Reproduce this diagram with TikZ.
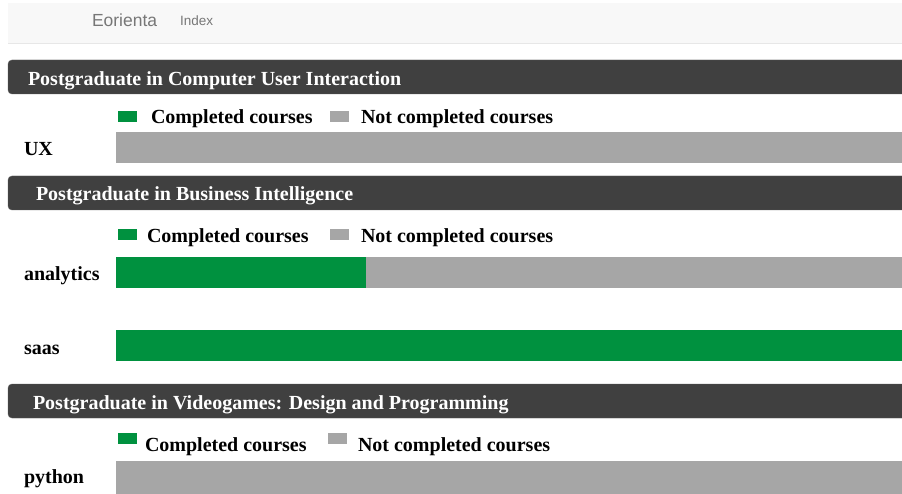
\documentclass[tikz,border=0pt]{standalone}
\usepackage{fontspec}
\setmainfont{Liberation Serif}
\newfontfamily\navfont{Liberation Sans}
\usepackage{tikz}

\definecolor{navbg}{HTML}{F8F8F8}
\definecolor{navline}{HTML}{E7E7E7}
\definecolor{navtext}{HTML}{777777}
\definecolor{headbg}{HTML}{404040}
\definecolor{done}{HTML}{00913F}
\definecolor{todo}{HTML}{A6A6A6}

\begin{document}
\begin{tikzpicture}[x=1pt,y=-1pt]
    \tikzstyle{every node}=[inner sep=0pt, outer sep=0pt]
    \tikzstyle{headbar}=[fill=headbg, draw=headbg!85!white, rounded corners=4pt,
        anchor=north west, minimum width=920pt, minimum height=34pt]
    \tikzstyle{title}=[anchor=base west, text=white,
        font=\fontsize{20}{24}\selectfont\bfseries]
    \tikzstyle{legtext}=[anchor=base west, font=\fontsize{20}{24}\selectfont\bfseries]
    \tikzstyle{course}=[anchor=base west, font=\fontsize{20}{24}\selectfont\bfseries]
    \tikzstyle{key}=[anchor=north west, minimum width=19pt, minimum height=11pt]
    \tikzstyle{bar}=[anchor=north west, minimum height=31pt]

    \useasboundingbox (0,0) rectangle (902,494);
    \clip (0,0) rectangle (902,494);
    \fill[white] (0,0) rectangle (902,494);

    % navigation bar
    \node[fill=navbg, anchor=north west, minimum width=894pt, minimum height=40pt] (nav) at (8,3) {};
    \draw[navline] (nav.south west) -- (nav.south east);
    \node[anchor=base west, text=navtext, font=\navfont\fontsize{17.5}{20}\selectfont] (brand) at (92,27) {Eorienta};
    \node[anchor=base west, text=navtext, font=\navfont\fontsize{13.5}{16}\selectfont] (index) at (180,26) {Index};

    % Computer User Interaction
    \node[headbar] (h1) at (8,60) {};
    \node[title] (t1) at (28,86) {Postgraduate in Computer User Interaction};
    \node[key, fill=done] (k1a) at (118,111) {};
    \node[legtext] (l1a) at (151,124) {Completed courses};
    \node[key, fill=todo] (k1b) at (330,111) {};
    \node[legtext] (l1b) at (361,124) {Not completed courses};
    \node[course] (ux) at (24,156) {UX};
    \node[bar, fill=todo, minimum width=786pt] (uxbar) at (116,132) {};

    % Business Intelligence
    \node[headbar] (h2) at (8,176) {};
    \node[title] (t2) at (36,201) {Postgraduate in Business Intelligence};
    \node[key, fill=done] (k2a) at (118,229) {};
    \node[legtext] (l2a) at (147,243) {Completed courses};
    \node[key, fill=todo] (k2b) at (330,229) {};
    \node[legtext] (l2b) at (361,243) {Not completed courses};
    \node[course] (analytics) at (24,281) {analytics};
    \node[bar, fill=done, minimum width=250pt] (anadone) at (116,257) {};
    \node[bar, fill=todo, minimum width=536pt] (anatodo) at (366,257) {};
    \node[course] (saas) at (24,354) {saas};
    \node[bar, fill=done, minimum width=786pt] (saasbar) at (116,330) {};

    % Videogames
    \node[headbar] (h3) at (8,384) {};
    \node[title] (t3) at (33,409) {Postgraduate in Videogames: Design and Programming};
    \node[key, fill=done] (k3a) at (118,433) {};
    \node[legtext] (l3a) at (145,451) {Completed courses};
    \node[key, fill=todo] (k3b) at (328,433) {};
    \node[legtext] (l3b) at (358,451) {Not completed courses};
    \node[course] (python) at (24,483) {python};
    \node[bar, fill=todo, minimum width=786pt, minimum height=34pt] (pybar) at (116,461) {};
\end{tikzpicture}
\end{document}
